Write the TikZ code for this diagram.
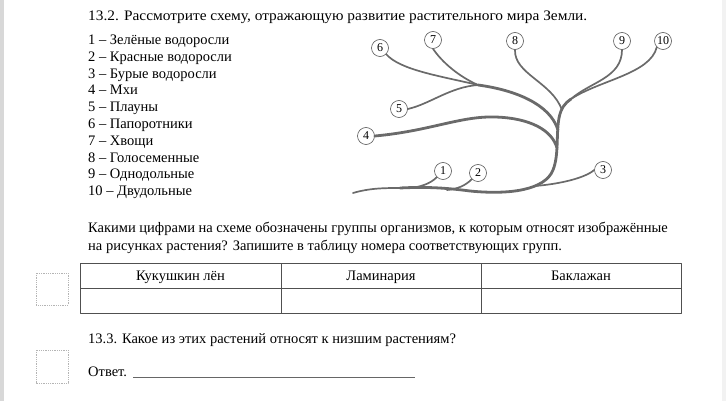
\documentclass[tikz,border=0pt]{standalone}
\usepackage{fontspec}
\setmainfont{Liberation Serif}
\usetikzlibrary{positioning}
\definecolor{treegray}{HTML}{6A6A6A}
\definecolor{ringgray}{HTML}{555555}
\definecolor{rulegray}{HTML}{505050}
\definecolor{boxgray}{HTML}{B4B4B4}
\definecolor{stripgray}{HTML}{D8D8D8}

\begin{document}
\begin{tikzpicture}[
  x=1pt, y=-1pt,
  line join=round,
  txt/.style={anchor=base west, inner sep=0pt, font=\fontsize{14.5}{16}\selectfont},
  listline/.style={txt},
  head/.style={anchor=base, inner sep=0pt, font=\fontsize{14.5}{16}\selectfont},
  num/.style={circle, draw=ringgray, fill=white, semithick, inner sep=0pt, minimum size=17pt, font=\fontsize{12}{12}\selectfont},
  branch/.style={draw=treegray, line width=1.7pt, line cap=round},
  trunk/.style={draw=treegray, line width=2.8pt, line cap=round},
  answerbox/.style={draw=boxgray, densely dotted, thick},
  grid/.style={draw=rulegray, line width=1pt}
]
  \useasboundingbox (0,0) rectangle (726,401);
  \fill[stripgray] (0,0) rectangle (4,401);
  \fill[black!5] (722,0) rectangle (726,401);

  % heading and list
  \node[txt] (title) at (88,20.5) {\scalebox{1.06}[1]{13.2. Рассмотрите схему, отражающую развитие растительного мира Земли.}};
  \foreach \i/\name [count=\k from 0] in {1/Зелёные водоросли, 2/Красные водоросли, 3/Бурые водоросли, 4/Мхи, 5/Плауны, 6/Папоротники, 7/Хвощи, 8/Голосеменные, 9/Однодольные, 10/Двудольные}
    \node[listline] (item\i) at (88,{44.5+16.8*\k}) {\i~-- \name};

  % tree
  \coordinate (root) at (353,193);
  \coordinate (fork) at (571,99);
  \coordinate (knot) at (478,85);
  \node[num] (n1) at (443,171) {1};
  \node[num] (n2) at (478,173) {2};
  \node[num] (n3) at (603,170) {3};
  \node[num] (n4) at (366,136) {4};
  \node[num] (n5) at (399,109) {5};
  \node[num] (n6) at (380,48) {6};
  \node[num] (n7) at (433,40) {7};
  \node[num] (n8) at (515,41) {8};
  \node[num] (n9) at (622,41) {9};
  \node[num] (n10) at (663,41) {10};

  \draw[branch] (root) .. controls (370,188) and (385,188) .. (400,188);
  \draw[trunk] (400,188) .. controls (420,187) and (440,187) .. (470,191)
    .. controls (510,195) and (545,190) .. (553,170)
    .. controls (559,155) and (556,135) .. (559,118)
    .. controls (561,108) and (565,103) .. (fork);
  \draw[branch] (n1.south west) .. controls (430,184) and (420,187) .. (410,188);
  \draw[branch] (n2.south west) .. controls (465,186) and (457,189) .. (447,190);
  \draw[branch] (n3.west) .. controls (585,178) and (560,184) .. (535,186);
  \draw[trunk] (n4.east) .. controls (430,131) and (460,116) .. (495,117)
    .. controls (530,118) and (552,130) .. (557,148);
  \draw[trunk] (knot) .. controls (515,90) and (550,104) .. (558,130);
  \draw[branch] (n6.south east) .. controls (400,70) and (440,76) .. (knot);
  \draw[branch] (n7.south) .. controls (442,62) and (458,76) .. (knot);
  \draw[branch] (n5.east) .. controls (430,104) and (450,87) .. (knot);
  \draw[branch] (n8.south) .. controls (514,74) and (552,82) .. (562,110);
  \draw[branch] (n9.south) .. controls (622,78) and (590,82) .. (fork);
  \draw[branch] (n10.south west) .. controls (650,74) and (600,80) .. (fork);

  % question
  \node[txt] (ask1) at (88,232.5) {Какими цифрами на схеме обозначены группы организмов, к которым относят изображённые};
  \node[txt] (ask2) at (88,250.5) {на рисунках растения? Запишите в таблицу номера соответствующих групп.};

  % table
  \draw[grid] (80,263) rectangle (681,313);
  \draw[grid] (80,288) -- (681,288);
  \draw[grid] (281,263) -- (281,313);
  \draw[grid] (481,263) -- (481,313);
  \node[head] (col1) at (180.5,280.5) {Кукушкин лён};
  \node[head] (col2) at (381,280.5) {Ламинария};
  \node[head] (col3) at (581,280.5) {Баклажан};

  \draw[answerbox] (36,273) rectangle (68,305);
  \draw[answerbox] (36,350) rectangle (68,383);

  % last question
  \node[txt] (ask3) at (88,343.5) {13.3. Какое из этих растений относят к низшим растениям?};
  \node[txt] (answer) at (88,376.5) {Ответ.};
  \draw[draw=black!60, thin] (133,377) -- (415,377);
\end{tikzpicture}
\end{document}
